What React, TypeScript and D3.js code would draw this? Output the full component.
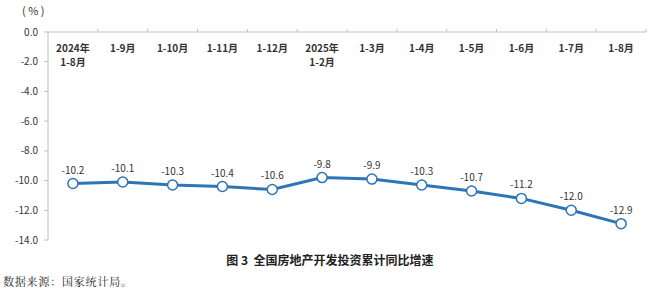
import React from "react";
import * as d3 from "d3";

const categories: string[][] = [
  ["2024年", "1-8月"], ["1-9月"], ["1-10月"], ["1-11月"], ["1-12月"],
  ["2025年", "1-2月"], ["1-3月"], ["1-4月"], ["1-5月"], ["1-6月"], ["1-7月"], ["1-8月"],
];
const values: number[] = [-10.2, -10.1, -10.3, -10.4, -10.6, -9.8, -9.9, -10.3, -10.7, -11.2, -12.0, -12.9];
const yTicks: number[] = [0, -2, -4, -6, -8, -10, -12, -14];
const title = "图 3  全国房地产开发投资累计同比增速";
const source = "数据来源：国家统计局。";
const unit = "( % )";

export default function App() {
  const W = 650, H = 290;
  const left = 48, right = 646, top = 32, bottom = 240;
  const x = d3.scaleBand<number>().domain(values.map((_, i) => i)).range([left, right]);
  const y = d3.scaleLinear().domain([-14, 0]).range([bottom, top]);
  const line = d3.line<number>().x((_, i) => x(i)! + x.bandwidth() / 2).y((d) => y(d));
  const font = "'Noto Sans CJK SC', 'Noto Sans', sans-serif";
  const blue = "#2e75b6";
  return (
    <svg width={W} height={H} style={{ position: "absolute", left: 0, top: 0 }} fontFamily={font}>
      <rect width={W} height={H} fill="#fff" />
      <text x={22} y={15} fontSize={11} fill="#333">{unit}</text>
      {/* y axis */}
      <line x1={left} x2={left} y1={top} y2={bottom} stroke="#bfbfbf" />
      {yTicks.map((t) => (
        <g key={t}>
          <line x1={left - 4} x2={left} y1={y(t)} y2={y(t)} stroke="#bfbfbf" />
          <text x={38} y={y(t)} dy="0.35em" textAnchor="end" fontSize={10} fill="#333">
            {t.toFixed(1)}
          </text>
        </g>
      ))}
      {/* x axis at 0 */}
      <line x1={left} x2={right} y1={y(0)} y2={y(0)} stroke="#bfbfbf" />
      {values.map((_, i) => (
        <line key={i} x1={x(i)! + x.bandwidth()} x2={x(i)! + x.bandwidth()} y1={y(0) - 3} y2={y(0)} stroke="#bfbfbf" />
      ))}
      {categories.map((c, i) => (
        <text key={i} x={x(i)! + x.bandwidth() / 2} y={52} textAnchor="middle" fontSize={10} fontWeight="bold" fill="#333">
          {c.map((s, j) => (
            <tspan key={j} x={x(i)! + x.bandwidth() / 2} dy={j === 0 ? 0 : 14}>{s}</tspan>
          ))}
        </text>
      ))}
      <path d={line(values) || ""} fill="none" stroke={blue} strokeWidth={3} />
      {values.map((v, i) => (
        <g key={i}>
          <circle cx={x(i)! + x.bandwidth() / 2} cy={y(v)} r={5} fill="#fff" stroke={blue} strokeWidth={1.5} />
          <text x={x(i)! + x.bandwidth() / 2} y={y(v) - 10} textAnchor="middle" fontSize={10} fill="#333">
            {v.toFixed(1)}
          </text>
        </g>
      ))}
      <text x={330} y={265} textAnchor="middle" fontSize={12} fontWeight="bold" fill="#222" style={{ whiteSpace: "pre" }}>{title}</text>
      <text x={3} y={286} fontSize={11} letterSpacing={0.8} fill="#222" fontFamily="'Noto Serif CJK SC', 'DejaVu Serif', serif">{source}</text>
    </svg>
  );
}
